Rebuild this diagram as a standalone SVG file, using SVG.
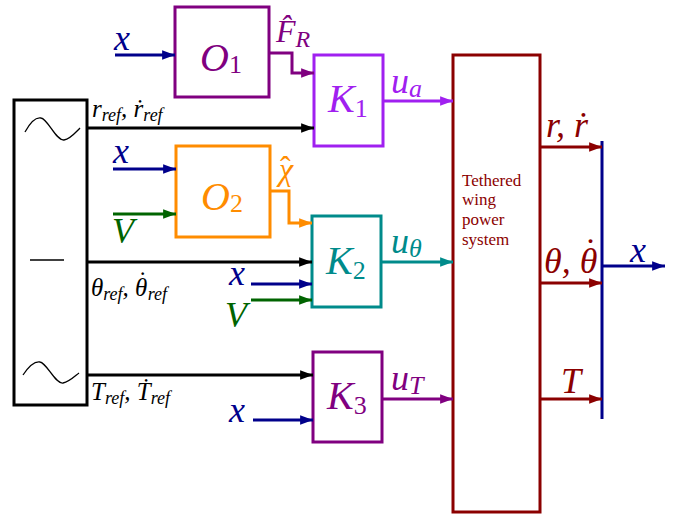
<svg xmlns="http://www.w3.org/2000/svg" width="683" height="515" viewBox="0 0 683 515">
<defs>
<style>
text{font-family:"Liberation Serif","DejaVu Serif",serif;}
.m{font-style:italic;}
.big{font-size:40px;}
.lab{font-size:36px;}
.sb{font-size:26px;}
.ref{font-size:25px;font-style:italic;}
.rs{font-size:18px;}
.up{font-style:normal;}
.box{fill:none;stroke-width:3;}
.ln{fill:none;stroke-width:3;}
</style>
<marker id="aB" viewBox="0 0 10 10" refX="10" refY="5" markerWidth="4.3" markerHeight="4.3" orient="auto"><path d="M0,1.3 L10,5 L0,8.7 z" fill="#00008b"/></marker>
<marker id="aG" viewBox="0 0 10 10" refX="10" refY="5" markerWidth="4.3" markerHeight="4.3" orient="auto"><path d="M0,1.3 L10,5 L0,8.7 z" fill="#006400"/></marker>
<marker id="aP" viewBox="0 0 10 10" refX="10" refY="5" markerWidth="4.3" markerHeight="4.3" orient="auto"><path d="M0,1.3 L10,5 L0,8.7 z" fill="#800080"/></marker>
<marker id="aV" viewBox="0 0 10 10" refX="10" refY="5" markerWidth="4.3" markerHeight="4.3" orient="auto"><path d="M0,1.3 L10,5 L0,8.7 z" fill="#a020f0"/></marker>
<marker id="aO" viewBox="0 0 10 10" refX="10" refY="5" markerWidth="4.3" markerHeight="4.3" orient="auto"><path d="M0,1.3 L10,5 L0,8.7 z" fill="#ff8c00"/></marker>
<marker id="aT" viewBox="0 0 10 10" refX="10" refY="5" markerWidth="4.3" markerHeight="4.3" orient="auto"><path d="M0,1.3 L10,5 L0,8.7 z" fill="#008b8b"/></marker>
<marker id="aR" viewBox="0 0 10 10" refX="10" refY="5" markerWidth="4.3" markerHeight="4.3" orient="auto"><path d="M0,1.3 L10,5 L0,8.7 z" fill="#8b0000"/></marker>
<marker id="aK" viewBox="0 0 10 10" refX="10" refY="5" markerWidth="4.3" markerHeight="4.3" orient="auto"><path d="M0,1.3 L10,5 L0,8.7 z" fill="#000"/></marker>
</defs>
<rect width="683" height="515" fill="#fff"/>

<g id="reference">
<rect class="box" x="14" y="100" width="73" height="305" stroke="#000"/>
<path d="M25,132 C31,121 36,117 41,118 C48,119 56,141 64,140 C70,139 75,133 80,128" fill="none" stroke="#000" stroke-width="1.3"/>
<line x1="30" y1="260" x2="64" y2="260" stroke="#000" stroke-width="1.3"/>
<path d="M23,375 C29,366 34,361 40,362 C47,363 55,384 63,383 C69,382 74,377 79,373" fill="none" stroke="#000" stroke-width="1.3"/>
</g>

<g id="O1">
<rect class="box" x="175" y="7" width="94" height="90" stroke="#800080"/>
<text class="m big" x="200" y="71" fill="#800080">O<tspan class="sb up" dy="2">1</tspan></text>
</g>
<g id="O2">
<rect class="box" x="176" y="146" width="94" height="91" stroke="#ff8c00"/>
<text class="m big" x="201" y="210" fill="#ff8c00">O<tspan class="sb up" dy="2">2</tspan></text>
</g>
<g id="K1">
<rect class="box" x="314" y="55" width="69" height="91" stroke="#a020f0"/>
<text class="m big" x="328" y="112" fill="#a020f0">K<tspan class="sb up" dy="5">1</tspan></text>
</g>
<g id="K2">
<rect class="box" x="312" y="216" width="69" height="91" stroke="#008b8b"/>
<text class="m big" x="326" y="274" fill="#008b8b">K<tspan class="sb up" dy="5">2</tspan></text>
</g>
<g id="K3">
<rect class="box" x="313" y="352" width="69" height="90" stroke="#800080"/>
<text class="m big" x="327" y="409" fill="#800080">K<tspan class="sb up" dy="5">3</tspan></text>
</g>
<g id="plant">
<rect class="box" x="453" y="55" width="87" height="457" stroke="#8b0000"/>
<text x="462" y="186" font-size="17" fill="#8b0000">Tethered</text>
<text x="462" y="205" font-size="17" fill="#8b0000">wing</text>
<text x="462" y="225" font-size="17" fill="#8b0000">power</text>
<text x="462" y="245" font-size="17" fill="#8b0000">system</text>
</g>
<g id="output-bus">
<line x1="602" y1="141" x2="602" y2="419" stroke="#00008b" stroke-width="3"/>
</g>

<g id="connectors">
<line class="ln" x1="87" y1="128" x2="314" y2="128" stroke="#000" marker-end="url(#aK)"/>
<line class="ln" x1="87" y1="262" x2="312" y2="262" stroke="#000" marker-end="url(#aK)"/>
<line class="ln" x1="87" y1="375" x2="313" y2="375" stroke="#000" marker-end="url(#aK)"/>
<line class="ln" x1="115" y1="55" x2="175" y2="55" stroke="#00008b" marker-end="url(#aB)"/>
<polyline class="ln" points="269,53 292,53 292,73 314,73" stroke="#800080" marker-end="url(#aP)"/>
<line class="ln" x1="383" y1="101" x2="453" y2="101" stroke="#a020f0" marker-end="url(#aV)"/>
<line class="ln" x1="113" y1="169" x2="176" y2="169" stroke="#00008b" marker-end="url(#aB)"/>
<line class="ln" x1="113" y1="214" x2="176" y2="214" stroke="#006400" marker-end="url(#aG)"/>
<polyline class="ln" points="270,191 289,191 289,223 312,223" stroke="#ff8c00" marker-end="url(#aO)"/>
<line class="ln" x1="251" y1="284" x2="312" y2="284" stroke="#00008b" marker-end="url(#aB)"/>
<line class="ln" x1="251" y1="300" x2="312" y2="300" stroke="#006400" marker-end="url(#aG)"/>
<line class="ln" x1="381" y1="262" x2="453" y2="262" stroke="#008b8b" marker-end="url(#aT)"/>
<line class="ln" x1="253" y1="420" x2="313" y2="420" stroke="#00008b" marker-end="url(#aB)"/>
<line class="ln" x1="382" y1="399" x2="453" y2="399" stroke="#800080" marker-end="url(#aP)"/>
<line class="ln" x1="540" y1="147" x2="602" y2="147" stroke="#8b0000" marker-end="url(#aR)"/>
<line class="ln" x1="540" y1="283" x2="602" y2="283" stroke="#8b0000" marker-end="url(#aR)"/>
<line class="ln" x1="540" y1="399" x2="602" y2="399" stroke="#8b0000" marker-end="url(#aR)"/>
<line class="ln" x1="603" y1="266" x2="665" y2="266" stroke="#00008b" marker-end="url(#aB)"/>
</g>

<g id="labels">
<text class="m lab" x="114" y="50" fill="#00008b">x</text>
<text class="m" x="276" y="42" font-size="32" fill="#800080">F̂<tspan font-size="24" dy="5">R</tspan></text>
<text class="m lab" x="391" y="93" fill="#a020f0">u<tspan class="sb" dy="4">a</tspan></text>
<text class="ref" x="92" y="117" fill="#000">r<tspan class="rs" dy="4">ref</tspan><tspan dy="-4">, ṙ</tspan><tspan class="rs" dy="4">ref</tspan></text>
<text class="m lab" x="113" y="163" fill="#00008b">x</text>
<text class="m lab" x="112" y="243" fill="#006400">V</text>
<text class="m" x="279" y="180" font-size="32" fill="#ff8c00">χ<tspan class="up" dx="-13" dy="-2">ˆ</tspan></text>
<text class="ref" x="91" y="296" fill="#000">θ<tspan class="rs" dy="4">ref</tspan><tspan dy="-4">, θ</tspan><tspan class="up" dx="-9" dy="-7">˙</tspan><tspan class="rs" dx="1" dy="11">ref</tspan></text>
<text class="m lab" x="229" y="285" fill="#00008b">x</text>
<text class="m lab" x="225" y="327" fill="#006400">V</text>
<text class="m lab" x="391" y="253" fill="#008b8b">u<tspan class="sb" dy="4">θ</tspan></text>
<text class="ref" x="91" y="400" fill="#000">T<tspan class="rs" dy="4">ref</tspan><tspan dy="-4">, Ṫ</tspan><tspan class="rs" dy="4">ref</tspan></text>
<text class="m lab" x="229" y="422" fill="#00008b">x</text>
<text class="m lab" x="391" y="390" fill="#800080">u<tspan class="sb" dy="4">T</tspan></text>
<text class="m lab" x="546" y="137" fill="#8b0000">r, ṙ</text>
<text class="m lab" x="544" y="273" fill="#8b0000">θ, θ<tspan class="up" dx="-13" dy="-10">˙</tspan></text>
<text class="m lab" x="561" y="393" fill="#8b0000">T</text>
<text class="m lab" x="630" y="262" fill="#00008b">x</text>
</g>
</svg>
